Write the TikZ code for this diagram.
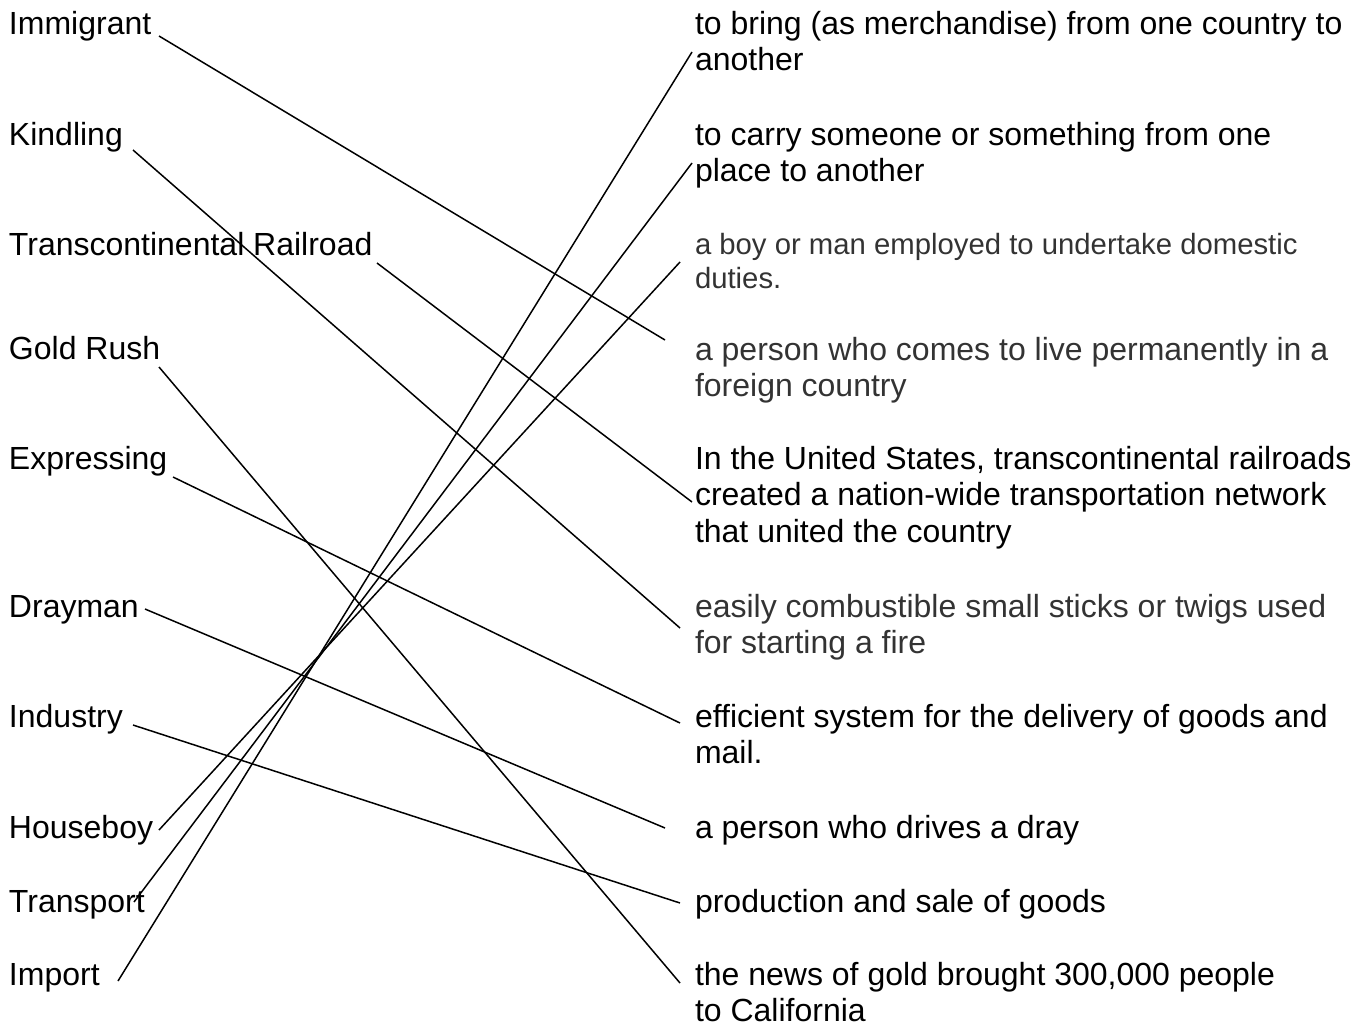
\documentclass[tikz,border=0pt]{standalone}
\usepackage{fontspec}
\setmainfont{Liberation Sans}
\newcommand{\mlines}[1]{\begin{tabular}[t]{@{}l@{}}#1\end{tabular}}
\tikzset{
  lbl/.style={anchor=base west, inner sep=0pt, outer sep=0pt, text=black,
    font=\fontsize{32}{36.5}\selectfont},
  dfn/.style={anchor=base west, inner sep=0pt, outer sep=0pt, text=black,
    font=\fontsize{32}{36.5}\selectfont},
  dfngray/.style={dfn, text=black!80},
  dfnsmall/.style={anchor=base west, inner sep=0pt, outer sep=0pt, text=black!80,
    font=\fontsize{29.3}{34}\selectfont},
  link/.style={draw=black, line width=1.5pt}
}
\begin{document}
\begin{tikzpicture}[x=1pt,y=-1pt]
\useasboundingbox (0,0) rectangle (1367,1026);
% left terms
\node[lbl] (l1) at (9,34) {Immigrant};
\node[lbl] (l2) at (9,145) {Kindling};
\node[lbl] (l3) at (9,255) {Transcontinental Railroad};
\node[lbl] (l4) at (9,359) {Gold Rush};
\node[lbl] (l5) at (9,469) {Expressing};
\node[lbl] (l6) at (9,617) {Drayman};
\node[lbl] (l7) at (9,727) {Industry};
\node[lbl] (l8) at (9,838) {Houseboy};
\node[lbl] (l9) at (9,912) {Transport};
\node[lbl] (l10) at (9,985) {Import};
% right definitions
\node[dfn] (r1) at (695,34) {\mlines{to bring (as merchandise) from one country to\\another}};
\node[dfn] (r2) at (695,145) {\mlines{to carry someone or something from one\\place to another}};
\node[dfnsmall] (r3) at (695,254) {\mlines{a boy or man employed to undertake domestic\\duties.}};
\node[dfngray] (r4) at (695,360) {\mlines{a person who comes to live permanently in a\\foreign country}};
\node[dfn] (r5) at (695,469) {\mlines{In the United States, transcontinental railroads\\created a nation-wide transportation network\\that united the country}};
\node[dfngray] (r6) at (695,617) {\mlines{easily combustible small sticks or twigs used\\for starting a fire}};
\node[dfn] (r7) at (695,727) {\mlines{efficient system for the delivery of goods and\\mail.}};
\node[dfn] (r8) at (695,838) {a person who drives a dray};
\node[dfn] (r9) at (695,912) {production and sale of goods};
\node[dfn] (r10) at (695,985) {\mlines{the news of gold brought 300,000 people\\to California}};
% connector end points
\coordinate (a1) at (159,36);   \coordinate (b4) at (665,340);
\coordinate (a2) at (133,150);  \coordinate (b6) at (680,628);
\coordinate (a3) at (377,263);  \coordinate (b5) at (692,502);
\coordinate (a4) at (159,367);  \coordinate (b10) at (680,983);
\coordinate (a5) at (173,477);  \coordinate (b7) at (680,723);
\coordinate (a6) at (145,609);  \coordinate (b8) at (665,828);
\coordinate (a7) at (133,725);  \coordinate (b9) at (680,903);
\coordinate (a8) at (159,830);  \coordinate (b3) at (680,262);
\coordinate (a9) at (134,902);  \coordinate (b2) at (692,163);
\coordinate (a10) at (118,981); \coordinate (b1) at (692,52);
% connectors
\draw[link] (a1) -- (b4);
\draw[link] (a2) -- (b6);
\draw[link] (a3) -- (b5);
\draw[link] (a4) -- (b10);
\draw[link] (a5) -- (b7);
\draw[link] (a6) -- (b8);
\draw[link] (a7) -- (b9);
\draw[link] (a8) -- (b3);
\draw[link] (a9) -- (b2);
\draw[link] (a10) -- (b1);
\end{tikzpicture}
\end{document}
